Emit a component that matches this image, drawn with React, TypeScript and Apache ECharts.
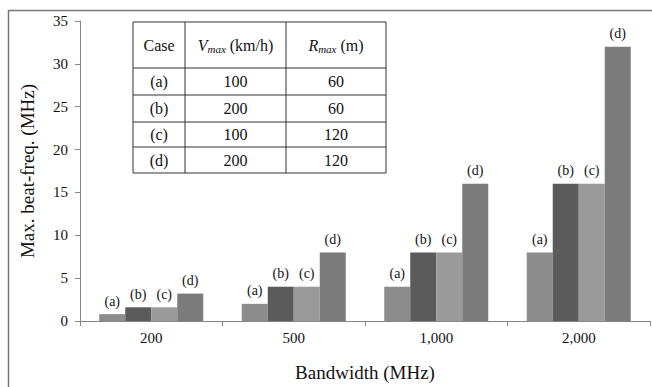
import React, { useEffect, useRef } from "react";
import * as echarts from "echarts";

const categories = ["200", "500", "1,000", "2,000"];
const caseA = [0.8, 2, 4, 8];
const caseB = [1.6, 4, 8, 16];
const caseC = [1.6, 4, 8, 16];
const caseD = [3.2, 8, 16, 32];
const caseNames = ["(a)", "(b)", "(c)", "(d)"];
const vmax = ["100", "200", "100", "200"];
const rmax = ["60", "60", "120", "120"];
const yTicks = { min: 0, max: 35, interval: 5 };

const FONT = "Liberation Serif, Times New Roman, serif";
const barColors = ["#8c8c8c", "#5b5b5b", "#9a9a9a", "#7b7b7b"];

export default function App() {
  const ref = useRef<HTMLDivElement>(null);
  useEffect(() => {
    document.body.style.margin = "0";
    const chart = echarts.init(ref.current!, null, { renderer: "svg" });
    const seriesData = [caseA, caseB, caseC, caseD];

    const tx0 = 133, tx1 = 185, tx2 = 286, tx3 = 386;
    const ty = [22, 68, 95, 122, 147, 173];
    const tableEls: any[] = [];
    tableEls.push({
      type: "rect",
      shape: { x: tx0, y: ty[0], width: tx3 - tx0, height: ty[5] - ty[0] },
      style: { fill: "#fff", stroke: "#333", lineWidth: 1 },
      z: 100,
    });
    [tx1, tx2].forEach((x) =>
      tableEls.push({
        type: "line",
        shape: { x1: x, y1: ty[0], x2: x, y2: ty[5] },
        style: { stroke: "#333", lineWidth: 1 },
        z: 101,
      })
    );
    ty.slice(1, 5).forEach((y) =>
      tableEls.push({
        type: "line",
        shape: { x1: tx0, y1: y, x2: tx3, y2: y },
        style: { stroke: "#333", lineWidth: 1 },
        z: 101,
      })
    );
    const cx = [(tx0 + tx1) / 2, (tx1 + tx2) / 2, (tx2 + tx3) / 2];
    const headY = (ty[0] + ty[1]) / 2;
    const rich = {
      v: { fontFamily: FONT, fontSize: 16, fontStyle: "italic", fill: "#111", lineHeight: 18 },
      s: { fontFamily: FONT, fontSize: 11, fontStyle: "italic", fill: "#111", verticalAlign: "bottom", lineHeight: 18 },
      n: { fontFamily: FONT, fontSize: 16, fill: "#111", lineHeight: 18 },
    };
    tableEls.push({
      type: "text",
      x: cx[0],
      y: headY,
      z: 102,
      style: { text: "Case", fontFamily: FONT, fontSize: 16, fill: "#111", align: "center", verticalAlign: "middle" },
    });
    tableEls.push({
      type: "text",
      x: cx[1],
      y: headY,
      z: 102,
      style: { text: "{v|V}{s|max}{n| (km/h)}", align: "center", verticalAlign: "middle", rich },
    });
    tableEls.push({
      type: "text",
      x: cx[2],
      y: headY,
      z: 102,
      style: { text: "{v|R}{s|max}{n| (m)}", align: "center", verticalAlign: "middle", rich },
    });
    for (let i = 0; i < 4; i++) {
      const y = (ty[i + 1] + ty[i + 2]) / 2;
      [caseNames[i], vmax[i], rmax[i]].forEach((t, j) =>
        tableEls.push({
          type: "text",
          x: cx[j],
          y,
          z: 102,
          style: { text: t, fontFamily: FONT, fontSize: 16, fill: "#111", align: "center", verticalAlign: "middle" },
        })
      );
    }

    chart.setOption({
      animation: false,
      backgroundColor: "#fff",
      textStyle: { fontFamily: FONT },
      grid: { left: 80, right: 2, top: 21, bottom: 54 },
      xAxis: {
        type: "category",
        data: categories,
        name: "Bandwidth (MHz)",
        nameLocation: "middle",
        nameGap: 42,
        nameTextStyle: { fontFamily: FONT, fontSize: 19, color: "#111" },
        axisLine: { lineStyle: { color: "#868686", width: 1 } },
        axisTick: { show: true, length: 5, lineStyle: { color: "#868686" } },
        axisLabel: { fontFamily: FONT, fontSize: 15, color: "#111", margin: 9 },
      },
      yAxis: {
        type: "value",
        min: yTicks.min,
        max: yTicks.max,
        interval: yTicks.interval,
        name: "Max. beat-freq. (MHz)",
        nameLocation: "middle",
        nameGap: 43,
        nameTextStyle: { fontFamily: FONT, fontSize: 19, color: "#111" },
        axisLine: { show: true, lineStyle: { color: "#868686", width: 1 } },
        axisTick: { show: true, length: 5, lineStyle: { color: "#868686" } },
        splitLine: { show: false },
        axisLabel: { fontFamily: FONT, fontSize: 15, color: "#111", margin: 12 },
      },
      series: seriesData.map((d, i) => ({
        type: "bar",
        name: caseNames[i],
        data: d,
        barGap: "0%",
        barCategoryGap: "27%",
        itemStyle: { color: barColors[i] },
        label: {
          show: true,
          position: "top",
          distance: 6,
          formatter: caseNames[i],
          fontFamily: FONT,
          fontSize: 14,
          color: "#111",
        },
      })),
      graphic: [
        {
          type: "rect",
          shape: { x: 8.5, y: 10.5, width: 800, height: 500 },
          style: { fill: "none", stroke: "#777", lineWidth: 1.5 },
          silent: true,
          z: 0,
        },
        ...tableEls,
      ],
    });
    return () => chart.dispose();
  }, []);
  return <div ref={ref} style={{ width: 652, height: 387 }} />;
}
